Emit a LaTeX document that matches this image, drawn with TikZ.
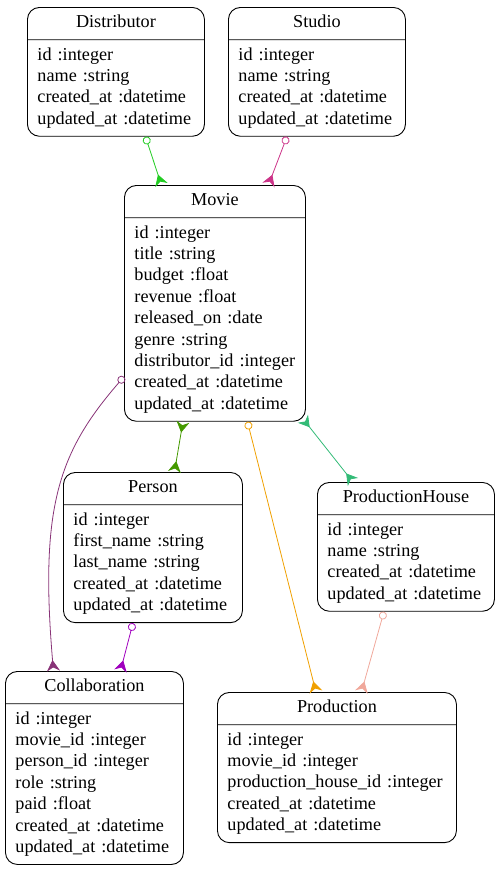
\documentclass[tikz,border=0pt]{standalone}
\usepackage{fontspec}
\setmainfont{Liberation Serif}
\usetikzlibrary{shapes.multipart, arrows.meta}

\definecolor{distgreen}{RGB}{34,204,34}
\definecolor{studiomag}{RGB}{204,51,136}
\definecolor{castpurple}{RGB}{136,51,119}
\definecolor{crewgreen}{RGB}{68,153,0}
\definecolor{prodorange}{RGB}{240,160,0}
\definecolor{housegreen}{RGB}{51,187,119}
\definecolor{rolepurple}{RGB}{160,0,190}
\definecolor{housesalmon}{RGB}{240,168,155}

% one unbreakable attribute line, and a centred title
\newcommand{\attr}[1]{\mbox{#1}\strut}
\newcommand{\etitle}[1]{\hspace*{\fill}#1\hspace*{\fill}\strut}

\begin{document}
\begin{tikzpicture}[
  x=1bp, y=-1bp,
  entity/.style={draw, line width=0.9bp, rectangle split, rectangle split parts=2,
    rounded corners=12bp, anchor=north west, inner xsep=10bp, inner ysep=5bp,
    align=left, font=\fontsize{18.2bp}{21.4bp}\selectfont},
  link/.style={line width=0.8bp},
  ring/.tip={Circle[open, length=8bp, line width=0.8bp]},
  crow/.tip={Stealth[reversed, length=11bp, width=13bp]},
]
  \useasboundingbox (0,0) rectangle (499,869);

  \node[entity, text width=157bp] (distributor) at (27,7)
    {\etitle{Distributor}\nodepart{two}\attr{id :integer}\\\attr{name :string}\\\attr{created\_at :datetime}\\\attr{updated\_at :datetime}};
  \node[entity, text width=157bp] (studio) at (228,7)
    {\etitle{Studio}\nodepart{two}\attr{id :integer}\\\attr{name :string}\\\attr{created\_at :datetime}\\\attr{updated\_at :datetime}};
  \node[entity, text width=161bp] (movie) at (124,185)
    {\etitle{Movie}\nodepart{two}\attr{id :integer}\\\attr{title :string}\\\attr{budget :float}\\\attr{revenue :float}\\\attr{released\_on :date}\\\attr{genre :string}\\\attr{distributor\_id :integer}\\\attr{created\_at :datetime}\\\attr{updated\_at :datetime}};
  \node[entity, text width=159bp] (person) at (63,472)
    {\etitle{Person}\nodepart{two}\attr{id :integer}\\\attr{first\_name :string}\\\attr{last\_name :string}\\\attr{created\_at :datetime}\\\attr{updated\_at :datetime}};
  \node[entity, text width=157bp] (house) at (317,482)
    {\etitle{ProductionHouse}\nodepart{two}\attr{id :integer}\\\attr{name :string}\\\attr{created\_at :datetime}\\\attr{updated\_at :datetime}};
  \node[entity, text width=158bp] (collab) at (5,671)
    {\etitle{Collaboration}\nodepart{two}\attr{id :integer}\\\attr{movie\_id :integer}\\\attr{person\_id :integer}\\\attr{role :string}\\\attr{paid :float}\\\attr{created\_at :datetime}\\\attr{updated\_at :datetime}};
  \node[entity, text width=219bp] (production) at (217,692)
    {\etitle{Production}\nodepart{two}\attr{id :integer}\\\attr{movie\_id :integer}\\\attr{production\_house\_id :integer}\\\attr{created\_at :datetime}\\\attr{updated\_at :datetime}};

  \draw[link, distgreen, ring-crow] ([xshift=29.5bp]distributor.south) -- ([xshift=-53.5bp]movie.north);
  \draw[link, studiomag, ring-crow] ([xshift=-30bp]studio.south) -- ([xshift=53.5bp]movie.north);
  \draw[link, castpurple, ring-crow] ([yshift=45bp]movie.south west)
    .. controls +(-65,75) and +(-14,-165) .. ([xshift=-41bp]collab.north);
  \draw[link, crewgreen, crow-crow] ([xshift=-32bp]movie.south) -- ([xshift=21.5bp]person.north);
  \draw[link, prodorange, ring-crow] ([xshift=32.5bp]movie.south) -- ([xshift=-21bp]production.north);
  \draw[link, housegreen, crow-crow] ([xshift=-3bp, yshift=3bp]movie.south east) -- ([xshift=-53bp]house.north);
  \draw[link, rolepurple, ring-crow] ([xshift=-20bp]person.south) -- ([xshift=26bp]collab.north);
  \draw[link, housesalmon, ring-crow] ([xshift=-22bp]house.south) -- ([xshift=24.5bp]production.north);
\end{tikzpicture}
\end{document}
